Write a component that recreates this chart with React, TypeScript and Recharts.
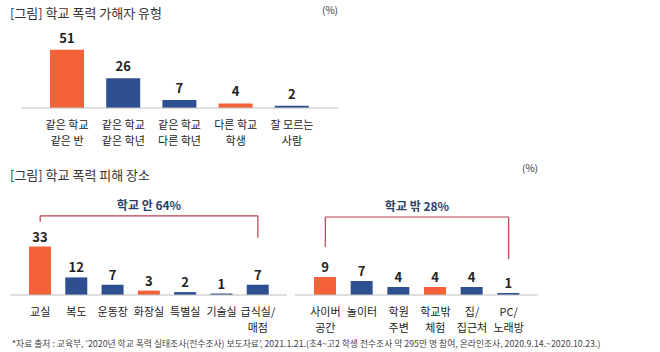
import React from 'react';
import { BarChart, Bar, XAxis, YAxis, LabelList, Cell, ReferenceLine } from 'recharts';

// ---- Data ----
const perpCategories = ['같은 학교\n같은 반', '같은 학교\n같은 학년', '같은 학교\n다른 학년', '다른 학교\n학생', '잘 모르는\n사람'];
const perpValues = [51, 26, 7, 4, 2];

const insideCategories = ['교실', '복도', '운동장', '화장실', '특별실', '기술실', '급식실/\n매점'];
const insideValues = [33, 12, 7, 3, 2, 1, 7];
const insideTotal = 64;

const outsideCategories = ['사이버\n공간', '놀이터', '학원\n주변', '학교밖\n체험', '집/\n집근처', 'PC/\n노래방'];
const outsideValues = [9, 7, 4, 4, 4, 1];
const outsideTotal = 28;

const perpHighlight = [0, 3];
const insideHighlight = [0, 3];
const outsideHighlight = [0, 3];

// ---- Styles ----
const FONT = '"Noto Sans CJK KR", "Noto Sans", sans-serif';
const ORANGE = '#F4623A';
const BLUE = '#2F5090';
const AXIS = '#BFBFBF';
const BRACKET = '#B5414E';
const NAVY = '#2B3F6B';

const toRows = (cats: string[], vals: number[]) => cats.map((name, i) => ({ name, value: vals[i] }));

const MultiTick = (props: any) => {
  const { x, y, payload } = props;
  const lines = String(payload.value).split('\n');
  return (
    <text x={x} y={y} textAnchor="middle" fill="#222" fontSize={11} fontFamily={FONT}>
      {lines.map((l, i) => (
        <tspan key={i} x={x} dy={i === 0 ? 21 : 16}>{l}</tspan>
      ))}
    </text>
  );
};

const valueLabelStyle = { fill: '#222', fontSize: 13, fontWeight: 700, fontFamily: FONT };

export default function App() {
  const perp = toRows(perpCategories, perpValues);
  const inside = toRows(insideCategories, insideValues);
  const outside = toRows(outsideCategories, outsideValues);

  const inFirst = insideCategories[0];
  const inLast = insideCategories[insideCategories.length - 1];
  const outFirst = outsideCategories[0];
  const outLast = outsideCategories[outsideCategories.length - 1];

  return (
    <div style={{ position: 'absolute', left: 0, top: 0, width: 660, height: 352, background: '#fff', fontFamily: FONT, overflow: 'hidden' }}>
      <div style={{ position: 'absolute', left: 10, top: 3, fontSize: 13, color: '#333', whiteSpace: 'nowrap' }}>[그림] 학교 폭력 가해자 유형</div>
      <div style={{ position: 'absolute', left: 322, top: 2, fontSize: 10, color: '#333' }}>(%)</div>

      <div style={{ position: 'absolute', left: 0, top: 0 }}>
        <BarChart width={360} height={160} data={perp} margin={{ top: 20, right: 22, left: 21, bottom: 0 }}>
          <YAxis hide domain={[0, 77]} />
          <XAxis dataKey="name" height={52} stroke={AXIS} tickLine={false} tickSize={0} tickMargin={0}
            padding={{ left: 18, right: 18 }} interval={0} tick={<MultiTick />} />
          <Bar dataKey="value" barSize={34} isAnimationActive={false}>
            {perp.map((_, i) => <Cell key={i} fill={perpHighlight.includes(i) ? ORANGE : BLUE} />)}
            <LabelList dataKey="value" position="top" offset={7} style={valueLabelStyle} />
          </Bar>
        </BarChart>
      </div>

      <div style={{ position: 'absolute', left: 10, top: 165, fontSize: 13, color: '#333', whiteSpace: 'nowrap' }}>[그림] 학교 폭력 피해 장소</div>
      <div style={{ position: 'absolute', left: 522, top: 160, fontSize: 10, color: '#333' }}>(%)</div>

      <div style={{ position: 'absolute', left: 0, top: 185 }}>
        <BarChart width={300} height={160} data={inside} margin={{ top: 0, right: 13, left: 10, bottom: 0 }}>
          <YAxis hide domain={[0, 75]} />
          <XAxis dataKey="name" height={50} stroke={AXIS} tickLine={false} tickSize={0} tickMargin={0}
            padding={{ left: 12, right: 11 }} interval={0} tick={<MultiTick />} />
          <Bar dataKey="value" barSize={22} isAnimationActive={false}>
            {inside.map((_, i) => <Cell key={i} fill={insideHighlight.includes(i) ? ORANGE : BLUE} />)}
            <LabelList dataKey="value" position="top" offset={5} style={valueLabelStyle} />
          </Bar>
          <ReferenceLine segment={[{ x: inFirst, y: 50 }, { x: inFirst, y: 54 }]} stroke={BRACKET} strokeWidth={1.2} ifOverflow="visible" />
          <ReferenceLine segment={[{ x: inFirst, y: 54 }, { x: inLast, y: 54 }]} stroke={BRACKET} strokeWidth={1.2} ifOverflow="visible"
            label={{ value: `학교 안 ${insideTotal}%`, position: 'top', offset: 6, fill: NAVY, fontSize: 12, fontWeight: 700, fontFamily: FONT }} />
          <ReferenceLine segment={[{ x: inLast, y: 54 }, { x: inLast, y: 39 }]} stroke={BRACKET} strokeWidth={1.2} ifOverflow="visible" />
        </BarChart>
      </div>

      <div style={{ position: 'absolute', left: 280, top: 185 }}>
        <BarChart width={270} height={160} data={outside} margin={{ top: 0, right: 12, left: 15, bottom: 0 }}>
          <YAxis hide domain={[0, 55]} />
          <XAxis dataKey="name" height={50} stroke={AXIS} tickLine={false} tickSize={0} tickMargin={0}
            padding={{ left: 12, right: 11 }} interval={0} tick={<MultiTick />} />
          <Bar dataKey="value" barSize={22} isAnimationActive={false}>
            {outside.map((_, i) => <Cell key={i} fill={outsideHighlight.includes(i) ? ORANGE : BLUE} />)}
            <LabelList dataKey="value" position="top" offset={5} style={valueLabelStyle} />
          </Bar>
          <ReferenceLine segment={[{ x: outFirst, y: 24 }, { x: outFirst, y: 39 }]} stroke={BRACKET} strokeWidth={1.2} ifOverflow="visible" />
          <ReferenceLine segment={[{ x: outFirst, y: 39 }, { x: outLast, y: 39 }]} stroke={BRACKET} strokeWidth={1.2} ifOverflow="visible"
            label={{ value: `학교 밖 ${outsideTotal}%`, position: 'top', offset: 6, fill: NAVY, fontSize: 12, fontWeight: 700, fontFamily: FONT }} />
          <ReferenceLine segment={[{ x: outLast, y: 39 }, { x: outLast, y: 18 }]} stroke={BRACKET} strokeWidth={1.2} ifOverflow="visible" />
        </BarChart>
      </div>

      <div style={{ position: 'absolute', left: 12, top: 337, fontSize: 8.8, color: '#444', whiteSpace: 'nowrap' }}>
        *자료 출처 : 교육부, ‘2020년 학교 폭력 실태조사(전수조사) 보도자료’, 2021.1.21.(초4~고2 학생 전수조사 약 295만 명 참여, 온라인조사, 2020.9.14.~2020.10.23.)
      </div>
    </div>
  );
}
